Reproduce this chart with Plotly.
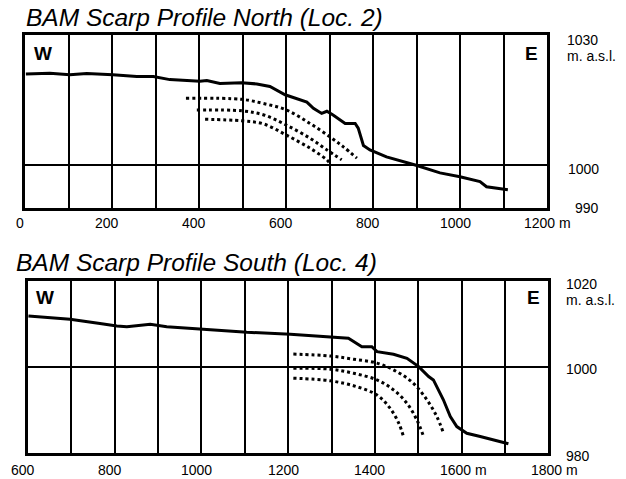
import plotly.graph_objects as go

W, H = 626, 479

# ---- Data: North profile (Loc. 2) ----
north_x = [2, 57, 103, 142, 202, 257, 295, 333, 402, 418, 448, 498, 533, 563, 598, 621, 648, 663,
           682, 694, 709, 736, 759, 766, 778, 793, 831, 897, 954, 1000, 1046, 1061, 1110]
north_y = [1020.9, 1021.05, 1020.7, 1021.0, 1020.7, 1020.3, 1020.3, 1019.6, 1019.2, 1019.4, 1018.7,
           1018.9, 1018.6, 1018.0, 1016.1, 1015.4, 1014.4, 1013.0, 1011.8, 1012.3, 1011.4, 1009.5,
           1009.5, 1008.4, 1004.4, 1003.4, 1001.8, 999.9, 998.1, 997.2, 996.1, 994.9, 994.2]
n1_x = [370, 498, 548, 601, 655, 701, 732, 763]
n1_y = [1015.3, 1015.05, 1014.1, 1012.6, 1009.5, 1006.4, 1004.1, 1001.5]
n2_x = [395, 498, 549, 601, 655, 694, 728]
n2_y = [1012.6, 1012.4, 1011.45, 1009.1, 1006.1, 1003.4, 1001.1]
n3_x = [414, 498, 548, 601, 655, 694, 700]
n3_y = [1010.45, 1010.1, 1009.4, 1006.8, 1003.8, 1001.1, 1000.4]

# ---- Data: South profile (Loc. 4) ----
south_x = [601, 697, 766, 805, 828, 882, 920, 997, 1028, 1105, 1205, 1235, 1297, 1339, 1370, 1393,
           1405, 1443, 1474, 1501, 1524, 1535, 1558, 1574, 1589, 1612, 1643, 1680, 1708]
south_y = [1011.8, 1011.05, 1010.1, 1009.5, 1009.35, 1009.9, 1009.35, 1008.8, 1008.6, 1008.05,
           1007.6, 1007.4, 1007.0, 1006.65, 1004.7, 1004.7, 1003.55, 1002.95, 1002.0, 1000.1,
           997.8, 997.0, 992.4, 988.5, 986.2, 984.65, 983.9, 983.0, 982.2]
s1_x = [1212, 1297, 1351, 1405, 1451, 1489, 1520, 1543, 1557]
s1_y = [1003.0, 1002.55, 1001.8, 1000.9, 998.9, 996.2, 992.4, 988.5, 985.0]
s2_x = [1212, 1297, 1351, 1405, 1443, 1474, 1497, 1511]
s2_y = [999.7, 999.5, 998.55, 997.0, 994.7, 991.6, 987.7, 984.3]
s3_x = [1212, 1297, 1358, 1405, 1435, 1455, 1466]
s3_y = [997.4, 996.8, 995.45, 993.5, 990.45, 987.0, 983.9]

# ---- Axes / ticks ----
north_xrange = [0, 1200]
north_yrange = [990, 1030]
north_xlabels = [0, 200, 400, 600, 800, 1000]
north_ylabels = ["1030", "m. a.s.l.", "1000", "990"]
south_xrange = [600, 1800]
south_yrange = [980, 1020]
south_xlabels = [600, 800, 1000, 1200, 1400]
south_ylabels = ["1020", "m. a.s.l.", "1000", "980"]

FONT = "Liberation Sans, Arial, Helvetica, sans-serif"


def px(x):
    return x / W


def py(y):
    return 1 - y / H


fig = go.Figure()

solid = dict(color="black", width=3)
dotted = dict(color="black", width=3, dash="dot", shape="spline")

fig.add_trace(go.Scatter(x=north_x, y=north_y, mode="lines", line=solid, xaxis="x", yaxis="y"))
for xs, ys in [(n1_x, n1_y), (n2_x, n2_y), (n3_x, n3_y)]:
    fig.add_trace(go.Scatter(x=xs, y=ys, mode="lines", line=dotted, xaxis="x", yaxis="y"))

fig.add_trace(go.Scatter(x=south_x, y=south_y, mode="lines", line=solid, xaxis="x2", yaxis="y2"))
for xs, ys in [(s1_x, s1_y), (s2_x, s2_y), (s3_x, s3_y)]:
    fig.add_trace(go.Scatter(x=xs, y=ys, mode="lines", line=dotted, xaxis="x2", yaxis="y2"))

axis_common = dict(showline=True, linecolor="black", linewidth=2.5, mirror=True,
                   showgrid=True, gridcolor="black", gridwidth=2, zeroline=False,
                   showticklabels=False, ticks="", fixedrange=True)

fig.update_layout(
    width=W, height=H,
    margin=dict(l=0, r=0, t=0, b=0),
    paper_bgcolor="white", plot_bgcolor="white",
    showlegend=False,
    xaxis=dict(domain=[px(25), px(547)], range=north_xrange, tickvals=list(range(0, 1201, 100)),
               anchor="y", **axis_common),
    yaxis=dict(domain=[py(208), py(34.5)], range=north_yrange, tickvals=[1000],
               anchor="x", **axis_common),
    xaxis2=dict(domain=[px(28), px(548.3)], range=south_xrange, tickvals=list(range(600, 1801, 100)),
                anchor="y2", **axis_common),
    yaxis2=dict(domain=[py(453.3), py(280.7)], range=south_yrange, tickvals=[1000],
                anchor="x2", **axis_common),
)

ann = []
# Titles
ann.append(dict(text="<i>BAM Scarp Profile North (Loc. 2)</i>", x=px(24), y=py(17), xanchor="left",
                yanchor="middle", font=dict(size=24.5, family=FONT, color="black")))
ann.append(dict(text="<i>BAM Scarp Profile South (Loc. 4)</i>", x=px(14), y=py(262), xanchor="left",
                yanchor="middle", font=dict(size=24.5, family=FONT, color="black")))
# W / E
for t, x, y in [("W", 32, 53), ("E", 540, 53), ("W", 34, 297), ("E", 542, 297)]:
    ann.append(dict(text="<b>%s</b>" % t, x=px(x), y=py(y),
                    xanchor="left" if t == "W" else "right", yanchor="middle",
                    font=dict(size=19, family=FONT, color="black")))
# Right-side labels (north: right-aligned numbers, south: left-aligned)
for t, x, y, xa in zip(north_ylabels, [600, 565, 601, 601], [40, 56, 169, 207.5],
                       ["right", "left", "right", "right"]):
    ann.append(dict(text=t, x=px(x), y=py(y), xanchor=xa, yanchor="middle",
                    font=dict(size=14, family=FONT, color="black")))
for t, x, y in zip(south_ylabels, [564, 564, 564, 564], [284, 300, 369, 456]):
    ann.append(dict(text=t, x=px(x), y=py(y), xanchor="left", yanchor="middle",
                    font=dict(size=14, family=FONT, color="black")))
# X tick labels
for v in north_xlabels:
    ann.append(dict(text=str(v), x=v, xref="x", y=py(223), xanchor="center", yanchor="middle",
                    xshift=-5, font=dict(size=14, family=FONT, color="black")))
ann.append(dict(text="1200 m", x=1200, xref="x", y=py(223), xanchor="center", yanchor="middle",
                xshift=0, font=dict(size=14, family=FONT, color="black")))
for v in south_xlabels:
    ann.append(dict(text=str(v), x=v, xref="x2", y=py(470), xanchor="center", yanchor="middle",
                    xshift=-5, font=dict(size=14, family=FONT, color="black")))
ann.append(dict(text="1600 m", x=1600, xref="x2", y=py(470), xanchor="center", yanchor="middle",
                xshift=2, font=dict(size=14, family=FONT, color="black")))
ann.append(dict(text="1800 m", x=1800, xref="x2", y=py(470), xanchor="center", yanchor="middle",
                xshift=6, font=dict(size=14, family=FONT, color="black")))

for a in ann:
    a.setdefault("xref", "paper")
    a.setdefault("yref", "paper")
    a["showarrow"] = False
fig.update_layout(annotations=ann)

fig.write_html("out.html", config={"displayModeBar": False},
               post_script="document.body.style.margin='0';")
